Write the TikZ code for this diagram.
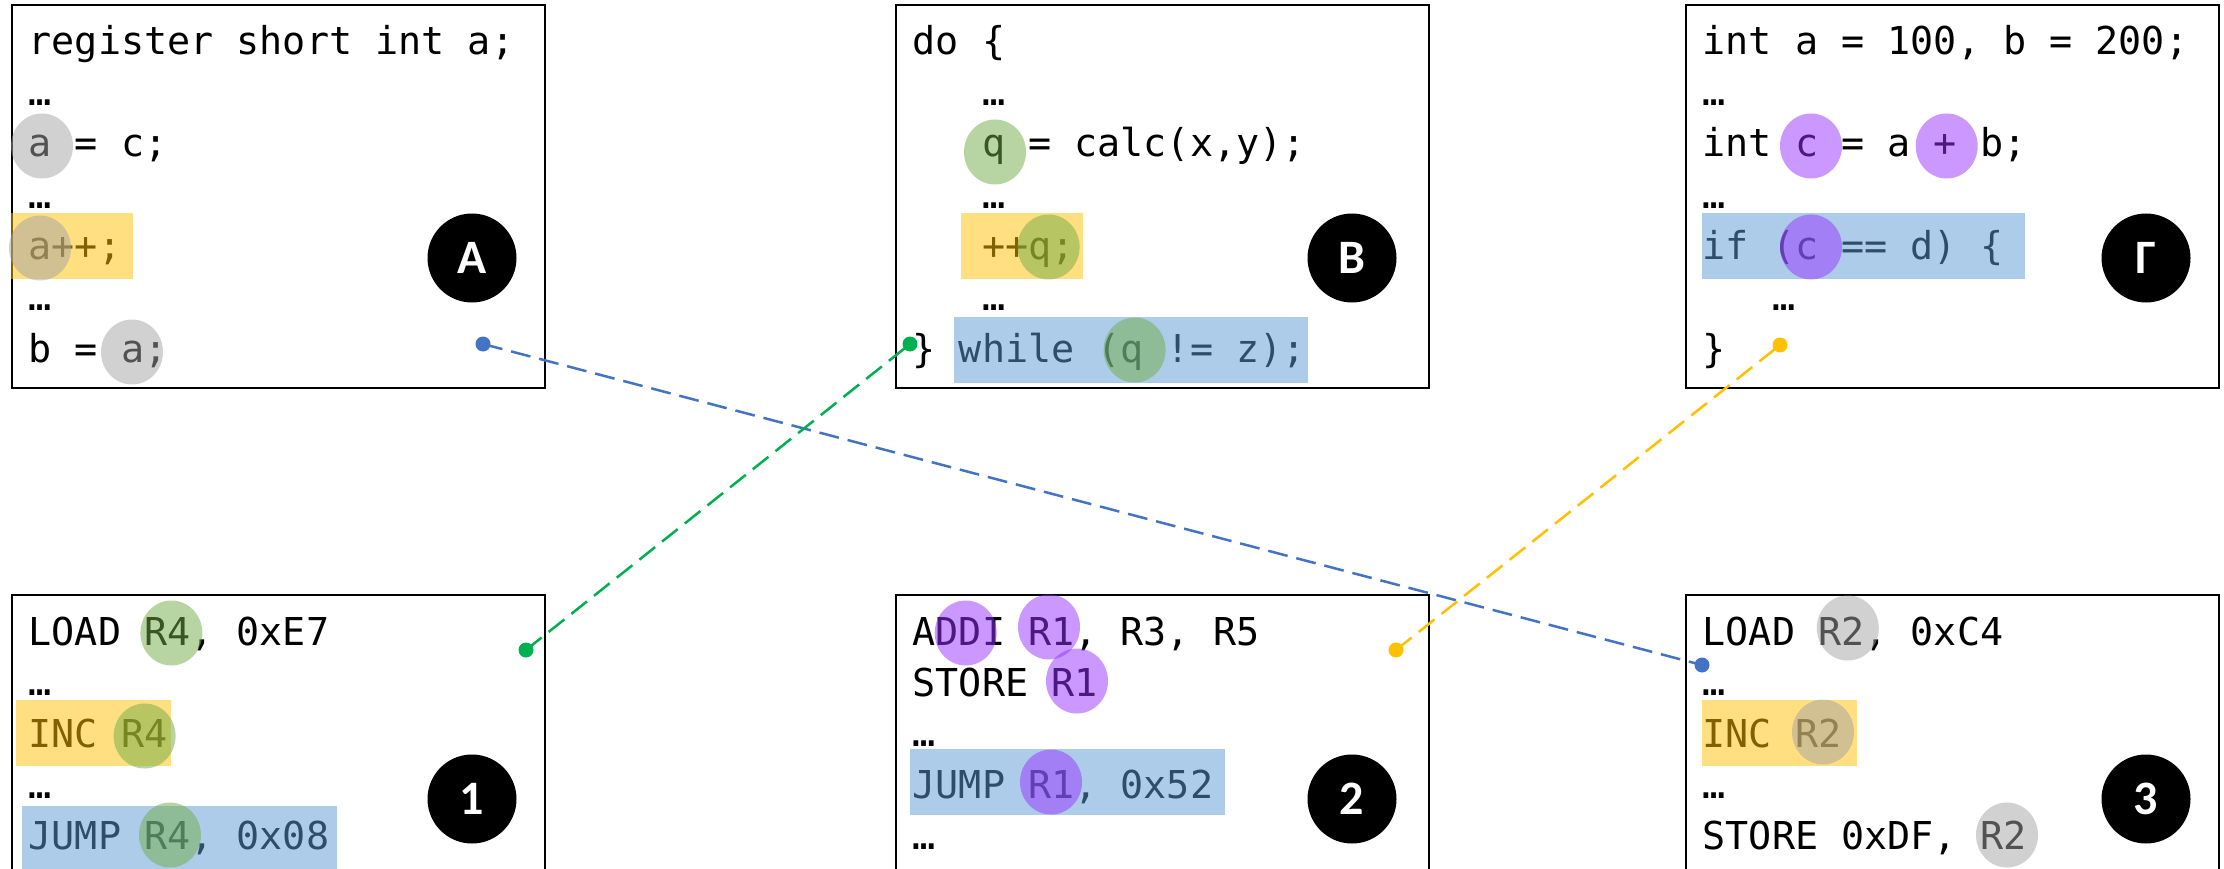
\documentclass[tikz,border=0pt]{standalone}
\usepackage{fontspec}
\newfontfamily\codefamily{DejaVu Sans Mono}
\newfontfamily\badgefamily{Carlito}

\definecolor{hlyellow}{HTML}{FFC000}
\definecolor{hlblue}{HTML}{5B9BD5}
\definecolor{hlgreen}{HTML}{70AD47}
\definecolor{hlgray}{HTML}{A5A5A5}
\definecolor{hlpurple}{HTML}{9933FF}
\definecolor{lnblue}{HTML}{4472C4}
\definecolor{lngreen}{HTML}{00B050}
\definecolor{lnyellow}{HTML}{FFC000}

\begin{document}
\begin{tikzpicture}[x=1pt,y=-1pt,
  codebox/.style={draw=black, line width=2.2pt, fill=white, anchor=north west,
    inner sep=0pt, minimum width=533pt},
  code/.style={anchor=base west, inner sep=0pt,
    font=\codefamily\fontsize{38.4}{46}\selectfont},
  badge/.style={circle, fill=black, text=white, inner sep=0pt, minimum size=89pt,
    font=\badgefamily\bfseries\fontsize{48}{56}\selectfont},
  mark yellow/.style={fill=hlyellow, fill opacity=0.5},
  mark blue/.style={fill=hlblue, fill opacity=0.5},
  mark green/.style={fill=hlgreen, fill opacity=0.5},
  mark gray/.style={fill=hlgray, fill opacity=0.5},
  mark purple/.style={fill=hlpurple, fill opacity=0.5},
  link/.style={line width=2.5pt, dash pattern=on 20pt off 9pt},
  enddot/.style={radius=7.5pt},
]
\useasboundingbox (0,0) rectangle (2224,869);
\fill[white] (0,0) rectangle (2224,869);
\clip (0,0) rectangle (2224,869);

% frames of the six listings
\node[codebox, minimum height=383pt] (boxA) at (11,4) {};
\node[codebox, minimum height=383pt] (boxB) at (895,4) {};
\node[codebox, minimum height=383pt] (boxG) at (1685,4) {};
\node[codebox, minimum height=300pt] (box1) at (11,594) {};
\node[codebox, minimum height=300pt] (box2) at (895,594) {};
\node[codebox, minimum height=300pt] (box3) at (1685,594) {};

% source A
\node[code] (a1) at (28.5,55)  {register short int a;};
\node[code] (a2) at (28.5,106) {…};
\node[code] (a3) at (28.5,157) {a = c;};
\node[code] (a4) at (28.5,208) {…};
\node[code] (a5) at (28.5,259) {a++;};
\node[code] (a6) at (28.5,310) {…};
\node[code] (a7) at (28.5,362) {b = a;};

% source B
\node[code] (b1) at (912.5,55)  {do \{};
\node[code] (b2) at (981.8,106) {…};
\node[code] (b3) at (981.8,157) {q = calc(x,y);};
\node[code] (b4) at (981.8,208) {…};
\node[code] (b5) at (981.8,259) {++q;};
\node[code] (b6) at (981.8,310) {…};
\node[code] (b7) at (912.5,362) {\} while (q != z);};

% source G
\node[code] (g1) at (1702.5,55)  {int a = 100, b = 200;};
\node[code] (g2) at (1702.5,106) {…};
\node[code] (g3) at (1702.5,157) {int c = a + b;};
\node[code] (g4) at (1702.5,208) {…};
\node[code] (g5) at (1702.5,259) {if (c == d) \{};
\node[code] (g6) at (1771.8,310) {…};
\node[code] (g7) at (1702.5,362) {\}};

% machine code 1
\node[code] (m11) at (28.5,645) {LOAD R4, 0xE7};
\node[code] (m12) at (28.5,695) {…};
\node[code] (m13) at (28.5,747) {INC R4};
\node[code] (m14) at (28.5,798) {…};
\node[code] (m15) at (28.5,849) {JUMP R4, 0x08};

% machine code 2
\node[code] (m21) at (912.5,645) {ADDI R1, R3, R5};
\node[code] (m22) at (912.5,696) {STORE R1};
\node[code] (m23) at (912.5,746) {…};
\node[code] (m24) at (912.5,798) {JUMP R1, 0x52};
\node[code] (m25) at (912.5,849) {…};

% machine code 3
\node[code] (m31) at (1702.5,645) {LOAD R2, 0xC4};
\node[code] (m32) at (1702.5,695) {…};
\node[code] (m33) at (1702.5,747) {INC R2};
\node[code] (m34) at (1702.5,798) {…};
\node[code] (m35) at (1702.5,849) {STORE 0xDF, R2};

% line highlights
\fill[mark yellow] (11.4,213) rectangle (132.9,279);
\fill[mark yellow] (961.4,213) rectangle (1082.9,279);
\fill[mark blue]   (954,317) rectangle (1307.9,383);
\fill[mark blue]   (1702,213) rectangle (2025,279);
\fill[mark yellow] (16,700) rectangle (171,766);
\fill[mark blue]   (22,806) rectangle (337,880);
\fill[mark blue]   (910,749) rectangle (1225,815);
\fill[mark yellow] (1702,700) rectangle (1857,766);

% operand highlights
\fill[mark gray]   (42,146)    ellipse [x radius=31pt, y radius=32.5pt];
\fill[mark gray]   (40,248)    ellipse [x radius=31pt, y radius=32.5pt];
\fill[mark gray]   (132,352)   ellipse [x radius=31pt, y radius=32.5pt];
\fill[mark green]  (995,152)   ellipse [x radius=31pt, y radius=32.5pt];
\fill[mark green]  (1048.6,247) ellipse [x radius=31pt, y radius=32.5pt];
\fill[mark green]  (1134.6,350) ellipse [x radius=31pt, y radius=32.5pt];
\fill[mark purple] (1811,146)  ellipse [x radius=31pt, y radius=32.5pt];
\fill[mark purple] (1946.7,146) ellipse [x radius=31pt, y radius=32.5pt];
\fill[mark purple] (1811,247)  ellipse [x radius=31pt, y radius=32.5pt];
\fill[mark green]  (171.4,633) ellipse [x radius=31pt, y radius=32.5pt];
\fill[mark green]  (144.6,736) ellipse [x radius=31pt, y radius=32.5pt];
\fill[mark green]  (170,835)   ellipse [x radius=31pt, y radius=32.5pt];
\fill[mark purple] (965.7,633) ellipse [x radius=31pt, y radius=32.5pt];
\fill[mark purple] (1049,627)  ellipse [x radius=31pt, y radius=32.5pt];
\fill[mark purple] (1077,681)  ellipse [x radius=31pt, y radius=32.5pt];
\fill[mark purple] (1051,782)  ellipse [x radius=31pt, y radius=32.5pt];
\fill[mark gray]   (1847.8,628) ellipse [x radius=31pt, y radius=32.5pt];
\fill[mark gray]   (1823,732)  ellipse [x radius=31pt, y radius=32.5pt];
\fill[mark gray]   (2007,835)  ellipse [x radius=31pt, y radius=32.5pt];

% labels
\node[badge] (labA) at (472,258)  {А};
\node[badge] (labB) at (1352,258) {В};
\node[badge] (labG) at (2146,258) {Г};
\node[badge] (lab1) at (472,799)  {1};
\node[badge] (lab2) at (1352,799) {2};
\node[badge] (lab3) at (2146,799) {3};

% correspondences
\coordinate (pA) at (483,344);
\coordinate (pB) at (910,344);
\coordinate (pG) at (1780,345);
\coordinate (p1) at (526,650);
\coordinate (p2) at (1396,650);
\coordinate (p3) at (1702,665);

\draw[link, lnblue]   (pA) -- (p3);
\draw[link, lngreen]  (p1) -- (pB);
\draw[link, lnyellow] (p2) -- (pG);
\fill[lnblue]   (pA) circle[enddot] (p3) circle[enddot];
\fill[lngreen]  (p1) circle[enddot] (pB) circle[enddot];
\fill[lnyellow] (p2) circle[enddot] (pG) circle[enddot];
\end{tikzpicture}
\end{document}
